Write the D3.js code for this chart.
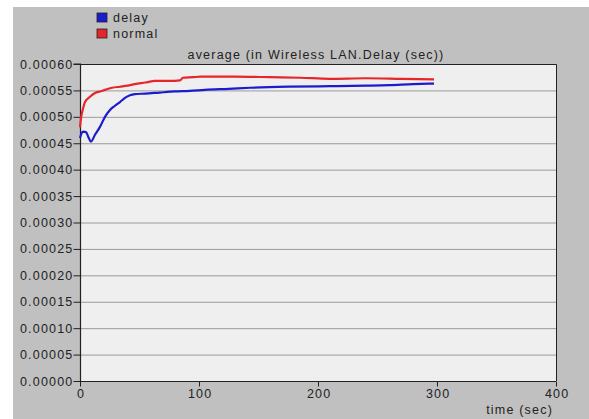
<!DOCTYPE html>
<html>
<head>
<meta charset="utf-8">
<script src="https://cdn.jsdelivr.net/npm/d3@7"></script>
<style>
  html, body { margin: 0; padding: 0; background: #fff; }
  svg { display: block; font-family: "Liberation Sans", Arial, sans-serif; }
  svg text { letter-spacing: 1.2px; }
</style>
</head>
<body>
<svg id="chart" width="589" height="419"></svg>
<script>
// Wireless LAN delay, averaged over time (seconds vs seconds)
const delayTime  = [0, 1.5, 2.5, 5, 7, 9.2, 12.6, 16.8, 21, 25.2, 29.4, 33.6, 37.8, 42, 46.2, 55, 67, 80, 92, 105, 125, 143, 175, 210, 240, 260, 280, 297.5];
const delayValue = [0.000460, 0.000470, 0.000472, 0.000471, 0.000462, 0.000453, 0.000466, 0.000481, 0.000500, 0.000513, 0.000521, 0.000528, 0.000536, 0.000541, 0.000543, 0.000544, 0.000546, 0.000548, 0.000549, 0.000551, 0.000553, 0.000555, 0.000557, 0.000558, 0.000559, 0.000560, 0.000562, 0.000563];

const normalTime  = [0, 1, 2.5, 4.2, 8.4, 12.6, 16.8, 21, 27, 33.6, 40, 46, 55, 63, 75, 84, 86.5, 95, 101, 130, 160, 185, 210, 240, 270, 297.5];
const normalValue = [0.000480, 0.000500, 0.000515, 0.000528, 0.000538, 0.000545, 0.000548, 0.000551, 0.000555, 0.000557, 0.000559, 0.000562, 0.000565, 0.000568, 0.000568, 0.000569, 0.000574, 0.000575, 0.000576, 0.000576, 0.000575, 0.000574, 0.000572, 0.000573, 0.000572, 0.000571];

const yTicks = [0, 0.00005, 0.0001, 0.00015, 0.0002, 0.00025, 0.0003, 0.00035, 0.0004, 0.00045, 0.0005, 0.00055, 0.0006];
const xTicks = [0, 100, 200, 300, 400];

const seriesNames  = ["delay", "normal"];
const seriesColors = ["#1c1ccf", "#e6262a"];

const svg = d3.select("#chart");
const W = 589, H = 419;
const plot = { left: 80, top: 64, right: 556, bottom: 381 };
const fontSize = "12.5px";

// panel background
svg.append("rect").attr("x", 13).attr("y", 7).attr("width", W - 13).attr("height", H - 7)
  .attr("fill", "#c0c0c0");

const x = d3.scaleLinear().domain([0, 400]).range([plot.left, plot.right]);
const y = d3.scaleLinear().domain([0, 0.0006]).range([plot.bottom, plot.top]);

svg.append("rect")
  .attr("x", plot.left).attr("y", plot.top)
  .attr("width", plot.right - plot.left).attr("height", plot.bottom - plot.top)
  .attr("fill", "#efefef");

// horizontal grid
svg.append("g").selectAll("line").data(yTicks.slice(1, -1)).join("line")
  .attr("x1", plot.left).attr("x2", plot.right)
  .attr("y1", d => y(d) + 0.5).attr("y2", d => y(d) + 0.5)
  .attr("stroke", "#9a9a9a").attr("stroke-width", 1);

// frame (top and right edges)
svg.append("path")
  .attr("d", `M${plot.left},${plot.top + 0.5}H${plot.right + 0.5}V${plot.bottom}`)
  .attr("fill", "none").attr("stroke", "#222").attr("stroke-width", 1);

// axes
const yAxis = d3.axisLeft(y).tickValues(yTicks).tickFormat(d3.format(".5f")).tickSize(7).tickPadding(0);
const gy = svg.append("g").attr("transform", `translate(${plot.left + 0.5},0)`).call(yAxis);
const xAxis = d3.axisBottom(x).tickValues(xTicks).tickFormat(d3.format("d")).tickSize(5).tickPadding(3);
const gx = svg.append("g").attr("transform", `translate(0,${plot.bottom + 0.5})`).call(xAxis);

[gy, gx].forEach(g => {
  g.select(".domain").attr("stroke", "#222").attr("stroke-width", 1.2);
  g.selectAll(".tick line").attr("stroke", "#222");
  g.selectAll(".tick text").attr("fill", "#222").style("font-size", fontSize)
    .style("font-family", "'Liberation Sans', Arial, sans-serif");
});
gx.selectAll(".tick text").attr("dx", "0.6px");
gy.select(".domain").attr("d", `M-7,${plot.top}H0V${plot.bottom}`);
gx.select(".domain").attr("d", `M${plot.left},0H${plot.right}`);

// lines
const line = d3.line().x(d => x(d[0])).y(d => y(d[1])).curve(d3.curveMonotoneX);
const series = [
  d3.zip(delayTime, delayValue),
  d3.zip(normalTime, normalValue)
];
svg.append("g").selectAll("path").data(series).join("path")
  .attr("d", line)
  .attr("fill", "none")
  .attr("stroke", (d, i) => seriesColors[i])
  .attr("stroke-width", 2.2)
  .attr("stroke-linejoin", "round");

// title
svg.append("text").attr("x", 316).attr("y", 59).attr("text-anchor", "middle")
  .attr("fill", "#222").style("font-size", fontSize)
  .text("average (in Wireless LAN.Delay (sec))");

// x axis label
svg.append("text").attr("x", 553).attr("y", 414).attr("text-anchor", "end")
  .attr("fill", "#222").style("font-size", fontSize)
  .text("time (sec)");

// legend
const legend = svg.append("g").selectAll("g").data(seriesNames).join("g")
  .attr("transform", (d, i) => `translate(97,${13 + i * 16})`);
legend.append("rect").attr("width", 10).attr("height", 9)
  .attr("fill", (d, i) => seriesColors[i]).attr("stroke", "#222").attr("stroke-width", 0.8);
legend.append("text").attr("x", 16).attr("y", 9)
  .attr("fill", "#222").style("font-size", fontSize).text(d => d);
</script>
</body>
</html>
